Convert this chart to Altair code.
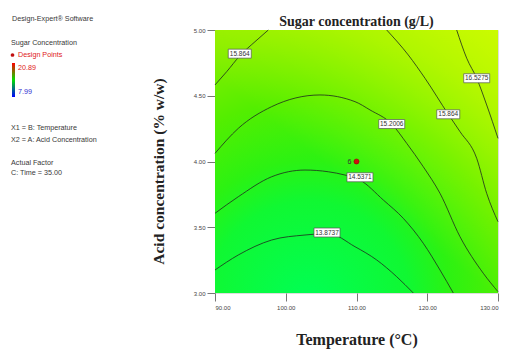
import altair as alt
import pandas as pd

# ---------------- data ----------------
x_domain = [90, 130]
y_domain = [3.0, 5.0]
x_ticks = [90, 100, 110, 120, 130]
y_ticks = [3.0, 3.5, 4.0, 4.5, 5.0]

# contour lines (Temperature, Acid concentration)
c1_level = "15.864"
c1_x = [90.0, 91.65, 93.53, 95.65, 97.53]
c1_y = [4.582, 4.683, 4.805, 4.911, 5.0]

c2_level = "15.2006"
c2_x = [90.0, 93.29, 98.01, 104.84, 109.79, 111.91, 114.98, 117.10, 119.44, 121.80, 124.63, 127.92, 130.0]
c2_y = [4.062, 4.252, 4.417, 4.506, 4.455, 4.392, 4.285, 4.138, 3.960, 3.758, 3.428, 3.150, 3.010]

c3_level = "15.864"
c3_x = [114.27, 117.32, 119.68, 122.97, 124.63, 126.99, 128.40, 130.0]
c3_y = [5.0, 4.810, 4.633, 4.359, 4.227, 4.024, 3.758, 3.542]

c4_level = "16.5275"
c4_x = [124.16, 125.58, 126.99, 128.40, 130.0]
c4_y = [5.0, 4.785, 4.633, 4.430, 4.176]

c5_level = "14.5371"
c5_x = [90.0, 93.29, 98.01, 102.72, 106.01, 108.37, 110.49, 113.79, 116.61, 119.44, 121.80, 123.68]
c5_y = [3.606, 3.732, 3.884, 3.935, 3.922, 3.897, 3.859, 3.707, 3.568, 3.378, 3.175, 3.0]

c6_level = "13.8737"
c6_x = [90.0, 93.29, 98.01, 102.72, 106.01, 109.79, 112.86, 115.68, 118.03]
c6_y = [3.175, 3.289, 3.403, 3.441, 3.452, 3.352, 3.251, 3.124, 3.0]

label_text = ["15.864", "16.5275", "15.864", "15.2006", "14.5371", "13.8737"]
label_x = [93.5, 126.99, 122.97, 114.98, 110.49, 105.83]
label_y = [4.82, 4.633, 4.359, 4.285, 3.88, 3.46]

point_x = [110.0]
point_y = [4.0]
point_label = ["6"]

legend_max = "20.89"
legend_min = "7.99"

# ---------------- tables ----------------
rows = []
for cid, (lv, xs_, ys_) in enumerate([(c1_level, c1_x, c1_y), (c2_level, c2_x, c2_y),
                                       (c3_level, c3_x, c3_y), (c4_level, c4_x, c4_y),
                                       (c5_level, c5_x, c5_y), (c6_level, c6_x, c6_y)]):
    for i, (a, b) in enumerate(zip(xs_, ys_)):
        rows.append({"cid": cid, "level": lv, "i": i, "x": a, "y": b})
cdf = pd.DataFrame(rows)
ldf = pd.DataFrame({"label": label_text, "x": label_x, "y": label_y})
pdf = pd.DataFrame({"x": point_x, "y": point_y, "label": point_label})
bg = pd.DataFrame({"x": [x_domain[0]], "x2": [x_domain[1]], "y": [y_domain[0]], "y2": [y_domain[1]]})
one = pd.DataFrame({"a": [0]})

SERIF = "Liberation Serif"
SANS = "Liberation Sans"

xs = alt.Scale(domain=x_domain, nice=False, zero=False)
ys = alt.Scale(domain=y_domain, nice=False, zero=False)

x_axis = alt.Axis(values=x_ticks, format=".2f", labelFont=SANS, labelFontSize=6, labelColor="#444",
                  tickColor="#777", tickSize=8, domain=False, grid=False, labelPadding=3,
                  title="Temperature (°C)", titleFont=SERIF, titleFontSize=16, titleFontWeight="bold",
                  titleColor="#222", titlePadding=21)
y_axis = alt.Axis(values=y_ticks, format=".2f", labelFont=SANS, labelFontSize=6, labelColor="#444",
                  tickColor="#777", tickSize=8, domain=False, grid=False, labelPadding=2,
                  title="Acid concentration (% w/w)", titleFont=SERIF, titleFontSize=15.5,
                  titleFontWeight="bold", titleColor="#222", titlePadding=27, titleY=141)

radial = {
    "gradient": "radial", "x1": 0.33, "y1": 1.0, "r1": 0, "x2": 0.33, "y2": 1.0, "r2": 1.2,
    "stops": [
        {"offset": 0.0, "color": "#00ff55"},
        {"offset": 0.3, "color": "#10f832"},
        {"offset": 0.42, "color": "#2cf212"},
        {"offset": 0.6, "color": "#54ee00"},
        {"offset": 0.8, "color": "#88ee00"},
        {"offset": 1.0, "color": "#a8f000"},
    ],
}
overlay = {
    "gradient": "linear", "x1": 0.5, "y1": 0.6, "x2": 1.0, "y2": 0.0,
    "stops": [
        {"offset": 0.0, "color": "rgba(215,255,0,0)"},
        {"offset": 1.0, "color": "rgba(215,255,0,0.75)"},
    ],
}

base_bg = alt.Chart(bg).mark_rect(fill=radial).encode(
    x=alt.X("x:Q", scale=xs, axis=x_axis), x2="x2", y=alt.Y("y:Q", scale=ys, axis=y_axis), y2="y2")
over_bg = alt.Chart(bg).mark_rect(fill=overlay).encode(
    x=alt.X("x:Q", scale=xs), x2="x2", y=alt.Y("y:Q", scale=ys), y2="y2")

lines = alt.Chart(cdf).mark_line(color="#1e2a1e", strokeWidth=0.8, interpolate="monotone").encode(
    x=alt.X("x:Q", scale=xs), y=alt.Y("y:Q", scale=ys), detail="cid:N", order="i:Q")

box6 = alt.Chart(ldf).transform_filter("length(datum.label) <= 6").mark_rect(
    width=23, height=9, fill="white", stroke="#555", strokeWidth=0.7).encode(
    x=alt.X("x:Q", scale=xs), y=alt.Y("y:Q", scale=ys))
box7 = alt.Chart(ldf).transform_filter("length(datum.label) > 6").mark_rect(
    width=26, height=9, fill="white", stroke="#555", strokeWidth=0.7).encode(
    x=alt.X("x:Q", scale=xs), y=alt.Y("y:Q", scale=ys))
ltext = alt.Chart(ldf).mark_text(font=SANS, fontSize=6.5, color="#333", baseline="middle").encode(
    x=alt.X("x:Q", scale=xs), y=alt.Y("y:Q", scale=ys), text="label:N")

pts = alt.Chart(pdf).mark_circle(size=26, color="#d01010", opacity=1, stroke="#800", strokeWidth=0.5).encode(
    x=alt.X("x:Q", scale=xs), y=alt.Y("y:Q", scale=ys))
ptxt = alt.Chart(pdf).mark_text(font=SANS, fontSize=7, color="#333", dx=-7, baseline="middle").encode(
    x=alt.X("x:Q", scale=xs), y=alt.Y("y:Q", scale=ys), text="label:N")


def panel_text(t, px, py, color="#383838", size=7.2):
    return alt.Chart(one).mark_text(text=t, font=SANS, fontSize=size, color=color, align="left",
                                    baseline="middle").encode(x=alt.value(px - 215), y=alt.value(py - 30))


panel = [
    panel_text("Design-Expert® Software", 12, 19),
    panel_text("Sugar Concentration", 11, 43),
    panel_text("Design Points", 18, 55, color="#e02020"),
    panel_text(legend_max, 18, 67.7, color="#e02020"),
    panel_text(legend_min, 18, 91.7, color="#3030d0"),
    panel_text("X1 = B: Temperature", 11, 128.3),
    panel_text("X2 = A: Acid Concentration", 11, 140),
    panel_text("Actual Factor", 11, 163.3),
    panel_text("C: Time = 35.00", 11, 173.3),
]
dot = alt.Chart(one).mark_circle(size=14, color="#c01010", opacity=1).encode(
    x=alt.value(12.5 - 215), y=alt.value(55 - 30))
cbar = alt.Chart(one).mark_rect(fill={
    "gradient": "linear", "x1": 0, "y1": 0, "x2": 0, "y2": 1,
    "stops": [{"offset": 0, "color": "#ff0000"}, {"offset": 0.5, "color": "#00e000"},
              {"offset": 1, "color": "#0000ff"}]}).encode(
    x=alt.value(12 - 215), x2=alt.value(15 - 215), y=alt.value(63 - 30), y2=alt.value(97 - 30))

title = alt.Chart(one).mark_text(text="Sugar concentration (g/L)", font=SERIF, fontSize=14,
                                 fontWeight="bold", color="#222", align="center",
                                 baseline="alphabetic").encode(x=alt.value(141.5), y=alt.value(-4))

chart = alt.layer(base_bg, over_bg, lines, box6, box7, ltext, pts, ptxt, dot, cbar, title, *panel).properties(
    width=283, height=263,
    autosize=alt.AutoSizeParams(type="none"),
    padding={"left": 215, "top": 30, "right": 7, "bottom": 56},
).configure_view(stroke="#888", strokeWidth=1).configure(background="white")

chart.save("out.html", embed_options={"renderer": "svg", "actions": False})
